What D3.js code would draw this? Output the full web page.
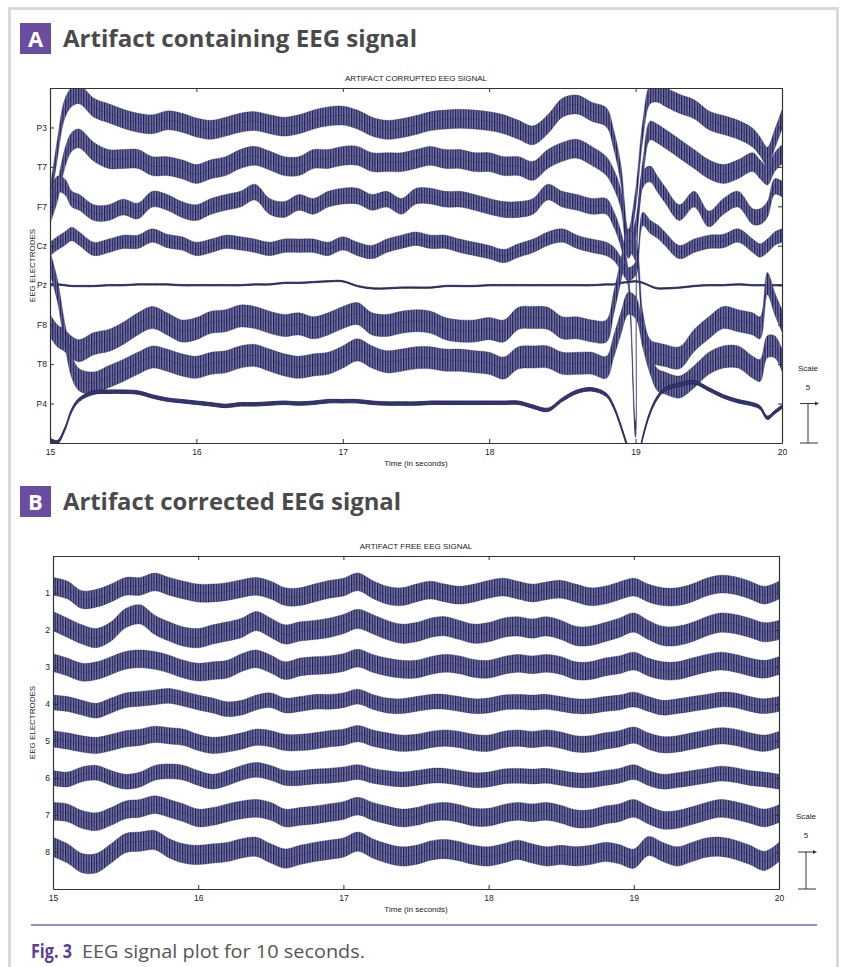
<!DOCTYPE html>
<html>
<head>
<meta charset="utf-8">
<script src="https://cdn.jsdelivr.net/npm/d3@7"></script>
<style>
  body { margin: 0; background: #fff; }
  svg text { font-family: "Liberation Sans", Arial, sans-serif; }
</style>
</head>
<body>
<div id="figure"></div>
<script>
// ---- Data (deviation of each trace from its electrode baseline; 5 units = one electrode gap) ----
const xTicks = [15, 16, 17, 18, 19, 20];
const scaleValue = 5;

// Panel A: artifact corrupted signal
const timesA = [15.0, 15.05, 15.1, 15.15, 15.2,
  15.3, 15.4, 15.5, 15.6, 15.7, 15.8, 15.9,
  16.0, 16.1, 16.2, 16.3, 16.4, 16.5, 16.6, 16.7,
  16.8, 16.9, 17.0, 17.1, 17.2, 17.3, 17.4, 17.5, 17.6, 17.7,
  17.8, 17.9, 18.0, 18.1, 18.2, 18.3, 18.4, 18.5, 18.6, 18.7,
  18.8,
  18.85, 18.9, 18.95, 19.0, 19.05, 19.1, 19.15, 19.2,
  19.3, 19.4, 19.5, 19.6, 19.7, 19.8,
  19.85, 19.9, 19.95, 20.0];
const labelsA = ["P3", "T7", "F7", "Cz", "Pz", "F8", "T8", "P4"];
const P3 = [-9.1, -2.8, 2.3, 3.9, 4.2,
  2.5, 1.8, 1.1, 0.6, 0.4, 0.9, 0.6,
  0, -0.3, 0.1, 0.6, 0.8, 0.4, 0.1, 0.4,
  1.0, 1.4, 1.5, 1.0, 0.1, -0.3, -0.1, 0.3, 0.8, 1.0,
  1.1, 1.0, 0.8, 0.4, -0.3, -1.0, 0.4, 2.5, 2.9, 2.0,
  1.3,
  -1.5, -6.0, -14.2, -9.1, -0.3, 4.2, 4.4, 3.9,
  3.0, 2.3, 0.9, 0.3, -0.3, -1.3,
  -2.4, -3.7, -1.5, 1.0];
const T7 = [-6.0, -3.2, 1.0, 3.2, 3.6,
  1.9, 1.0, 1.0, 1.0, 0.1, 0.1, -0.3,
  -0.9, -0.3, 0.1, 1.0, 1.4, 0.8, 0.1, 0.1,
  1.0, 1.0, 1.4, 1.4, 0.6, 0.6, 0.6, 1.0, 1.4, 1.0,
  1.0, 0.6, 0.6, 0.1, 0.1, -0.5, 1.0, 1.9, 2.3, 1.4,
  0.1,
  -1.5, -4.1, -10.4, -7.9, -0.3, 4.6, 4.2, 3.6,
  2.3, 1.0, -0.3, -0.9, -0.3, 0.6,
  -0.3, -1.1, 0.6, 1.6];
const F7 = [0.9, 2.8, 2.5, 0.9, 0.5,
  -0.8, -0.8, -0.1, -0.6, 0.9, 0.5, -0.4,
  -0.8, 0, 0.5, 0.9, 1.8, 0, -0.4, 0.5,
  0, 0.9, 1.3, 1.3, 0.5, 0.9, 0, 1.3, 1.3, 0.9,
  0.9, 0.5, 0, -0.4, -0.4, 0, 1.8, 0.9, 0.5, 0,
  0,
  -1.6, -4.2, -9.3, -28.3, 3.4, 4.1, 2.8, 1.5,
  -0.8, 0.9, -1.6, 0, 0.9, -1.3,
  -1.3, -0.4, 2.5, 2.2];
const Cz = [-0.4, 0.3, 0.9, 1.5, 0.9,
  -0.4, 0, 0.5, 0.5, 1.3, 0.6, 0.3,
  -0.4, 0, 0.5, 0.3, 0, -0.4, 0, 0,
  0, -0.4, 0.3, -0.4, -0.8, 0, 0.5, 0.9, 0.5, 0.5,
  0, -0.4, -0.8, -1.3, -0.6, 0, 0.9, 1.3, 0.5, 0,
  -0.4,
  -1.0, -2.3, -3.6, -2.9, 3.4, 2.4, 1.8, 0.9,
  -0.8, 0, 0.5, 0.6, 1.3, 0,
  -0.6, 0, 0.9, 1.3];
const Pz = [0.1, 0.1, 0, -0.1, -0.1,
  -0.1, 0, 0, 0.1, 0.1, 0.1, 0,
  0, 0, 0, 0, 0.1, 0.1, 0.3, 0.3,
  0.4, 0.5, 0.5, -0.1, -0.4, -0.4, -0.3, -0.3, -0.3, -0.1,
  -0.1, -0.1, 0, 0, 0, 0, 0, 0, 0, 0,
  0.1,
  0.1, 0.3, 0.4, 0.5, 0.3, -0.1, -0.4, -0.4,
  -0.3, -0.1, 0, 0, 0.1, 0,
  0, 0, 0, 0];
const F8 = [-0.1, -1.4, -2.0, -2.9, -3.3,
  -2.4, -2.0, -1.1, 0.1, 0.9, 0.1, -0.8,
  -0.5, 0.3, 0.5, 1.1, 0.9, 0.3, -0.1, 0.1,
  -0.4, 0.1, 0.9, 1.4, 0.1, -0.1, 0.3, 0.5, 0.3, -0.5,
  -0.8, -0.8, -0.5, -0.8, 0.8, 0.9, 0.8, -0.4, -0.4, -0.8,
  -0.8,
  2.7, 6.9, 10.7, 9.4, 0.1, -3.3, -3.7, -3.9,
  -4.2, -2.0, -0.4, 0.9, 0.5, 0.1,
  -0.4, 5.2, 2.7, 0.5];
const T8 = [12.9, 9.4, 3.9, -0.4, -2.0,
  -2.4, -1.6, -0.8, 0.1, 0.9, 0.5, -0.1,
  -0.4, 0.1, 0.3, 0.9, 1.1, 0.5, -0.1, -0.4,
  -0.1, 0.1, 0.9, 1.8, 0.9, 0.3, 0.5, 0.8, 0.8, 0.5,
  0.5, 0.3, 0.1, -0.5, 0.8, 0.9, 0.9, 0.1, 0.1, 0.1,
  -0.4,
  2.2, 5.2, 7.7, 7.2, 3.4, 0.1, -2.0, -2.4,
  -2.9, -1.6, 0.1, 0.9, 0.9, -0.4,
  -0.8, 2.2, 2.2, 0.5];
const P4 = [-4.6, -4.9, -3.3, -0.8, 0.5,
  1.4, 1.5, 1.5, 1.4, 0.9, 0.5, 0.3,
  0.1, -0.1, -0.3, -0.1, -0.1, 0, 0.1, 0,
  0.1, 0.3, 0.3, 0.3, 0.1, 0, 0, 0, 0.1, 0.1,
  0.1, 0.1, 0.1, 0.1, 0.1, -0.4, -0.8, 0.5, 1.5, 1.8,
  1.1,
  -0.4, -2.9, -5.8, -8.4, -4.2, -1.1, 0.8, 1.8,
  2.4, 2.7, 1.8, 0.9, 0.3, -0.1,
  -0.5, -1.8, -1.1, -0.4];
// half thickness of each fuzzy trace
const spreadA = [1.2, 1.2, 1.0, 0.85, 0.08, 1.4, 1.4, 0.22];

// Panel B: artifact free signal
const timesB = [15.0, 15.1, 15.2, 15.3, 15.4, 15.5, 15.6, 15.7, 15.8, 15.9,
  16.0, 16.1, 16.2, 16.3, 16.4, 16.5, 16.6, 16.7, 16.8, 16.9,
  17.0, 17.1, 17.2, 17.3, 17.4, 17.5, 17.6, 17.7, 17.8, 17.9,
  18.0, 18.1, 18.2, 18.3, 18.4, 18.5, 18.6, 18.7, 18.8, 18.9,
  19.0, 19.1, 19.2, 19.3, 19.4, 19.5, 19.6, 19.7, 19.8, 19.9, 20.0];
const labelsB = ["1", "2", "3", "4", "5", "6", "7", "8"];
const ch1 = [0.9, 0.4, -0.9, -0.7, 0, 0.9, 0.9, 1.5, 0.9, 0.4, 0,
  0, 0.2, 0.6, 0.9, 0.4, -0.5, -0.5, 0, 0.5, 0.8,
  1.5, 0.5, -0.3, -0.5, 0, 0.4, 0, -0.3, 0, 0.5,
  0.8, 0.4, 0, 0.3, 0.5, 0, -0.5, -0.3, 0.3, 0.8,
  0, -0.5, -0.5, 0, 0.8, 1.2, 1.0, 0.4, -0.3, 0.4];
const ch2 = [1.2, 0.3, -0.6, -1.1, -0.2, 1.6, 2.1, 0.7, -0.2, -0.9, -1.1,
  -0.6, -0.2, 0.3, 1.2, 0.3, -0.6, -0.2, 0, 0.3, 0.8,
  1.5, 0.8, 0, -0.5, -0.3, 0.3, 0.5, 0, -0.5, -0.3,
  0.3, 0.5, 0.2, 0.5, 0, -0.8, -0.8, -0.3, 0.3, 1.0,
  0, -0.8, -0.8, -0.3, 0.5, 1.0, 0.8, 0.3, -0.3, 0];
const ch3 = [0.6, 0, -0.7, -0.5, 0.2, 0.9, 1.1, 0.9, 0.4, -0.3, -0.7,
  -0.5, -0.3, 0.6, 1.1, 0.4, -0.5, 0, 0.2, 0.3, 0.6,
  1.2, 0.5, 0, -0.3, -0.3, 0.2, 0.5, 0.3, -0.2, -0.3,
  0.2, 0.5, 0.3, 0.5, 0.2, -0.5, -0.5, 0, 0.3, 0.8,
  0, -0.5, -0.5, 0, 0.5, 0.8, 0.5, 0, -0.3, 0.2];
const ch4 = [0.2, 0, -0.5, -0.9, -0.2, 0.5, 0.7, 0.9, 1.1, 0.7, 0.2,
  -0.2, -0.7, -0.5, 0.2, 0.5, -0.2, 0, 0.3, 0.3, 0.5,
  1.0, 0.3, -0.2, -0.3, 0, 0.3, 0.3, 0, -0.3, -0.2,
  0.2, 0.3, 0.2, 0.3, 0, -0.3, -0.3, 0, 0.2, 0.6,
  0, -0.5, -0.3, 0, 0.3, 0.6, 0.5, 0, -0.3, 0];
const ch5 = [0.3, 0, -0.4, -0.6, -0.2, 0.3, 0.5, 0.9, 0.7, 0.5, -0.2,
  -0.6, -0.4, 0, 0.5, 0.3, -0.2, -0.2, 0, 0.3, 0.5,
  1.0, 0.4, 0, -0.3, -0.2, 0.2, 0.4, 0.2, -0.2, -0.3,
  0.2, 0.4, 0.2, 0.4, 0.1, -0.4, -0.4, 0, 0.3, 0.8,
  0, -0.5, -0.4, 0, 0.4, 0.7, 0.5, 0, -0.3, 0.2];
const ch6 = [0, -0.2, 0.5, 0.7, 0, -0.5, -0.2, 0.7, 0.9, 0.7, 0,
  -0.5, 0, 0.7, 1.1, 0.7, 0, 0, 0.2, 0.3, 0.5,
  0.8, 0.3, 0, -0.2, 0, 0.3, 0.3, 0, -0.3, -0.2,
  0.2, 0.3, 0.2, 0.3, 0, -0.3, -0.3, 0, 0.3, 0.8,
  0, -0.5, -0.3, 0, 0.3, 0.6, 0.4, 0, -0.2, -0.5];
const ch7 = [0.5, 0.3, -0.6, -0.9, -0.2, 0.7, 0.9, 1.4, 0.9, 0.3, -0.4,
  -0.2, 0.3, 0.7, 0.9, 0.5, -0.4, -0.2, 0, 0.3, 0.6,
  1.2, 0.5, 0, -0.4, -0.2, 0.3, 0.5, 0.2, -0.3, -0.3,
  0.2, 0.5, 0.3, 0.5, 0.1, -0.5, -0.5, 0, 0.3, 0.9,
  0, -0.7, -0.6, -0.1, 0.5, 0.9, 0.6, 0.1, -0.4, 0.2];
const ch8 = [0.7, -0.2, -1.5, -1.5, -0.2, 1.2, 1.4, 1.6, 0.5, -0.2, -0.4,
  -0.2, 0, 0.5, 0.7, -0.2, -0.9, -0.4, 0, 0.3, 0.6,
  1.4, 0.5, -0.2, -0.6, -0.4, 0.2, 0.4, 0.1, -0.4, -0.6,
  -0.2, 0.3, -0.2, -0.6, -0.4, -0.6, -0.4, 0, -0.3, -0.9,
  0.8, 0, -0.6, 0, 0.6, 0.7, 0.3, -0.4, -1.2, 0];
const spreadB = [1.2, 1.3, 1.2, 1.0, 1.1, 1.0, 1.2, 1.3];

// ---- Layout ----
const W = 844, H = 967;
const purple = "#6a4ca3";
const traceEdge = "#22225e";

const svg = d3.select("#figure").append("svg")
  .attr("width", W)
  .attr("height", H);

// dense vertical streaks to imitate the fast EEG oscillation inside each trace
const defs = svg.append("defs");
const fuzz = defs.append("pattern")
  .attr("id", "fuzz")
  .attr("patternUnits", "userSpaceOnUse")
  .attr("width", 2.6)
  .attr("height", 6);
fuzz.append("rect").attr("width", 2.6).attr("height", 6).attr("fill", "#7a7aa6");
fuzz.append("rect").attr("width", 1.2).attr("height", 6).attr("fill", "#1d1d58");

// outer frame of the figure box
svg.append("rect")
  .attr("x", 9.5).attr("y", 8.5)
  .attr("width", 828).attr("height", 1000)
  .attr("fill", "none")
  .attr("stroke", "#d9d9d9")
  .attr("stroke-width", 3);

const panels = [
  {
    letter: "A", heading: "Artifact containing EEG signal", headY: 23, headLen: 354,
    title: "ARTIFACT CORRUPTED EEG SIGNAL",
    left: 50, top: 88, right: 782, bottom: 443, scaleX: 808,
    times: timesA, series: [P3, T7, F7, Cz, Pz, F8, T8, P4], labels: labelsA, spread: spreadA
  },
  {
    letter: "B", heading: "Artifact corrected EEG signal", headY: 486, headLen: 338,
    title: "ARTIFACT FREE EEG SIGNAL",
    left: 53, top: 556, right: 779, bottom: 889, scaleX: 806,
    times: timesB, series: [ch1, ch2, ch3, ch4, ch5, ch6, ch7, ch8], labels: labelsB, spread: spreadB
  }
];

panels.forEach(drawPanel);

// Caption
svg.append("line")
  .attr("x1", 31).attr("x2", 817)
  .attr("y1", 925).attr("y2", 925)
  .attr("stroke", "#9a88cf")
  .attr("stroke-width", 2);

svg.append("text")
  .attr("x", 31).attr("y", 958)
  .attr("textLength", 41)
  .attr("lengthAdjust", "spacingAndGlyphs")
  .style("font-family", "'Open Sans', sans-serif")
  .style("font-weight", "bold")
  .style("font-size", "19px")
  .attr("fill", "#5b3f9c")
  .text("Fig. 3");

svg.append("text")
  .attr("x", 82).attr("y", 958)
  .attr("textLength", 283)
  .attr("lengthAdjust", "spacingAndGlyphs")
  .style("font-family", "'Open Sans', sans-serif")
  .style("font-size", "19px")
  .attr("fill", "#555")
  .text("EEG signal plot for 10 seconds.");

/**
 * Draw one EEG panel: heading, stacked traces, axes, scale bar
 */
function drawPanel(p) {
  const g = svg.append("g");
  const n = p.series.length;
  const gap = scaleValue;
  const base = i => -(i + 1) * gap;

  const x = d3.scaleLinear().domain([15, 20]).range([p.left, p.right]);
  const y = d3.scaleLinear().domain([-(n + 1) * gap, 0]).range([p.bottom, p.top]);

  // heading
  g.append("rect")
    .attr("x", 20).attr("y", p.headY)
    .attr("width", 31).attr("height", 31)
    .attr("fill", purple);
  g.append("text")
    .attr("x", 35.5).attr("y", p.headY + 23.5)
    .attr("text-anchor", "middle")
    .style("font-family", "'Open Sans', sans-serif")
    .style("font-weight", "bold")
    .style("font-size", "22px")
    .attr("fill", "#fff")
    .text(p.letter);
  g.append("text")
    .attr("x", 63).attr("y", p.headY + 24)
    .attr("textLength", p.headLen)
    .attr("lengthAdjust", "spacingAndGlyphs")
    .style("font-family", "'Open Sans', sans-serif")
    .style("font-weight", "bold")
    .style("font-size", "23px")
    .attr("fill", "#4a4a4a")
    .text(p.heading);

  // chart title
  g.append("text")
    .attr("x", (p.left + p.right) / 2)
    .attr("y", p.top - 7)
    .attr("text-anchor", "middle")
    .style("font-size", "8px")
    .attr("fill", "#222")
    .text(p.title);

  // clip region
  const clipId = "clip" + p.letter;
  svg.append("clipPath").attr("id", clipId)
    .append("rect")
    .attr("x", p.left).attr("y", p.top)
    .attr("width", p.right - p.left).attr("height", p.bottom - p.top);

  const traces = g.append("g").attr("clip-path", `url(#${clipId})`);

  p.series.forEach((vals, i) => {
    const pts = p.times.map((t, j) => ({ t: t, v: vals[j] }));
    const s = p.spread[i];

    const band = d3.area()
      .curve(d3.curveCatmullRom.alpha(0.5))
      .x(d => x(d.t))
      .y0(d => y(base(i) + d.v - s))
      .y1(d => y(base(i) + d.v + s));

    const mid = d3.line()
      .curve(d3.curveCatmullRom.alpha(0.5))
      .x(d => x(d.t))
      .y(d => y(base(i) + d.v));

    if (s > 0.5) {
      traces.append("path")
        .datum(pts)
        .attr("d", band)
        .attr("fill", "url(#fuzz)")
        .attr("stroke", traceEdge)
        .attr("stroke-width", 0.6)
        .attr("stroke-opacity", 0.6);
      traces.append("path")
        .datum(pts)
        .attr("d", mid)
        .attr("fill", "none")
        .attr("stroke", traceEdge)
        .attr("stroke-width", 0.6)
        .attr("stroke-opacity", 0.5);
    } else {
      traces.append("path")
        .datum(pts)
        .attr("d", band)
        .attr("fill", "#34346e")
        .attr("stroke", traceEdge)
        .attr("stroke-width", 0.9);
    }
  });

  // axes (ticks pointing inward like MATLAB)
  const baselines = p.labels.map((d, i) => base(i));

  const axB = g.append("g")
    .attr("transform", `translate(0,${p.bottom})`)
    .call(d3.axisBottom(x).tickValues(xTicks).tickFormat(d3.format("d")).tickSize(-4).tickSizeOuter(0).tickPadding(6));
  const axT = g.append("g")
    .attr("transform", `translate(0,${p.top})`)
    .call(d3.axisTop(x).tickValues(xTicks).tickFormat("").tickSize(-4).tickSizeOuter(0));
  const axL = g.append("g")
    .attr("transform", `translate(${p.left},0)`)
    .call(d3.axisLeft(y).tickValues(baselines).tickFormat((d, i) => p.labels[i]).tickSize(-4).tickSizeOuter(0).tickPadding(3));
  const axR = g.append("g")
    .attr("transform", `translate(${p.right},0)`)
    .call(d3.axisRight(y).tickValues(baselines).tickFormat("").tickSize(-4).tickSizeOuter(0));

  [axB, axT, axL, axR].forEach(ax => {
    ax.selectAll(".domain").attr("stroke", "#333").attr("stroke-width", 1.2);
    ax.selectAll(".tick line").attr("stroke", "#333");
    ax.selectAll("text")
      .style("font-family", "'Liberation Sans', Arial, sans-serif")
      .style("font-size", "8.5px")
      .attr("fill", "#222");
  });

  // axis titles
  g.append("text")
    .attr("x", (p.left + p.right) / 2)
    .attr("y", p.bottom + 23)
    .attr("text-anchor", "middle")
    .style("font-size", "8px")
    .attr("fill", "#222")
    .text("Time (in seconds)");

  g.append("text")
    .attr("transform", `translate(35,${(p.top + p.bottom) / 2}) rotate(-90)`)
    .attr("text-anchor", "middle")
    .style("font-size", "8px")
    .attr("fill", "#222")
    .text("EEG ELECTRODES");

  // scale bar: one electrode gap = 5 units
  const sTop = y(base(n - 1));
  const sBot = y(base(n - 1) - scaleValue);
  const sx = p.scaleX;
  const sb = g.append("g").attr("stroke", "#333").attr("stroke-width", 1);
  sb.append("line").attr("x1", sx - 8).attr("x2", sx + 9).attr("y1", sTop).attr("y2", sTop);
  sb.append("line").attr("x1", sx).attr("x2", sx).attr("y1", sTop).attr("y2", sBot);
  sb.append("line").attr("x1", sx - 8).attr("x2", sx + 10).attr("y1", sBot).attr("y2", sBot);
  g.append("path")
    .attr("d", `M${sx + 11},${sTop} l-4,-2 l0,4 z`)
    .attr("fill", "#333");

  g.append("text")
    .attr("x", sx).attr("y", sTop - 14)
    .attr("text-anchor", "middle")
    .style("font-size", "8px")
    .attr("fill", "#222")
    .text(scaleValue);
  g.append("text")
    .attr("x", sx).attr("y", sTop - 33)
    .attr("text-anchor", "middle")
    .style("font-size", "8px")
    .attr("fill", "#222")
    .text("Scale");
}
</script>
</body>
</html>
